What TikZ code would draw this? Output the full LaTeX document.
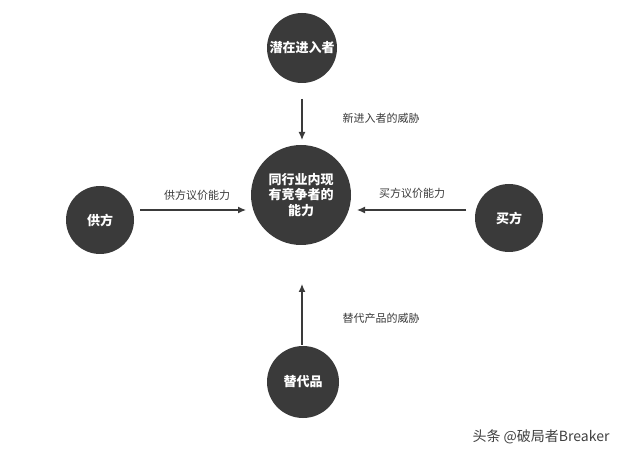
\documentclass[tikz,border=0pt]{standalone}
\usepackage{fontspec}
\setmainfont{Noto Sans CJK SC}
\usetikzlibrary{arrows.meta}
\definecolor{discgray}{HTML}{3A3A3A}
\tikzset{
  disc/.style={circle,fill=discgray,text=white,font=\bfseries\fontsize{13}{15.5}\selectfont,inner sep=0pt,align=center},
  force/.style={-{Latex[length=8pt,width=7pt]},line width=1.3pt,draw=discgray},
  lbl/.style={font=\fontsize{11}{13}\selectfont,text=discgray}
}
\begin{document}
\begin{tikzpicture}[x=1pt,y=1pt,yscale=-1]
\useasboundingbox[fill=white] (0,0) rectangle (640,462);

% circles
\node[disc,minimum size=100pt] (core) at (301,195) {同行业内现\\有竞争者的\\能力};
\node[disc,minimum size=70pt] (entrant) at (302,48) {潜在进入者};
\node[disc,minimum size=68pt] (supplier) at (100,220) {供方};
\node[disc,minimum size=68pt] (buyer) at (509,218) {买方};
\node[disc,minimum size=72pt] (subst) at (303,382) {替代品};

% arrows
\coordinate (t1) at (302,99);
\coordinate (t2) at (302,140);
\coordinate (l1) at (140,210);
\coordinate (l2) at (246,210);
\coordinate (r1) at (466,210);
\coordinate (r2) at (357,210);
\coordinate (b1) at (302,345);
\coordinate (b2) at (302,284);
\draw[force] (t1) -- (t2);
\draw[force] (l1) -- (l2);
\draw[force] (r1) -- (r2);
\draw[force] (b1) -- (b2);

% labels
\node[lbl] (lt) at (381,118) {新进入者的威胁};
\node[lbl] (ll) at (197,195) {供方议价能力};
\node[lbl] (lr) at (412,193) {买方议价能力};
\node[lbl] (lb) at (381,318) {替代产品的威胁};
\node[font=\fontsize{14}{16}\selectfont,text=black!75] (mark) at (541,437) {头条 @破局者Breaker};
\end{tikzpicture}
\end{document}
